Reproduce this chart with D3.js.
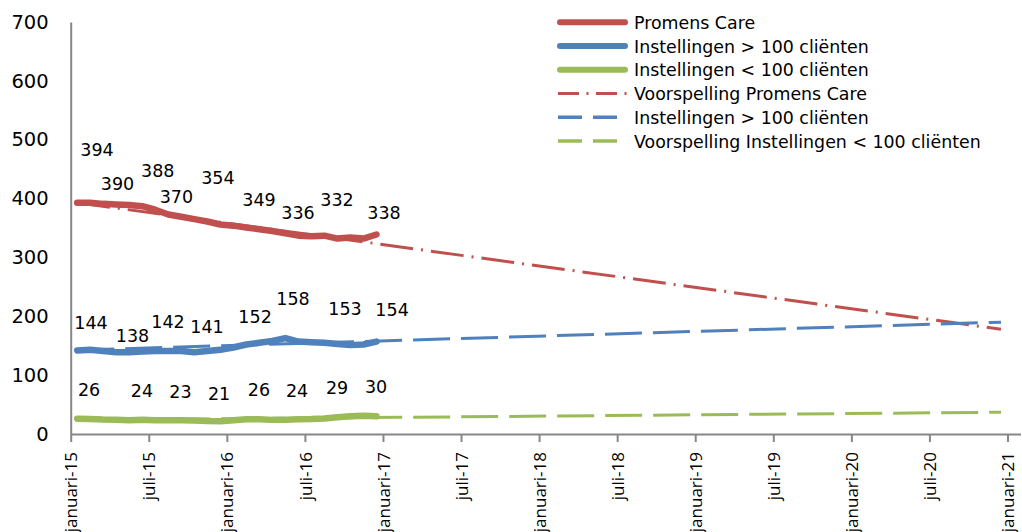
<!DOCTYPE html>
<html>
<head>
<meta charset="utf-8">
<script src="https://cdn.jsdelivr.net/npm/d3@7"></script>
<style>
  html, body { margin: 0; padding: 0; background: #fff; }
  svg { display: block; }
</style>
</head>
<body>
<svg id="chart" width="1022" height="532"></svg>
<script>
// ---------- DATA ----------
const months = ["2015-01","2015-02","2015-03","2015-04","2015-05","2015-06","2015-07","2015-08","2015-09","2015-10","2015-11","2015-12",
                "2016-01","2016-02","2016-03","2016-04","2016-05","2016-06","2016-07","2016-08","2016-09","2016-10","2016-11","2016-12"];
const promensCare   = [393,393,391,390,389,387,381,373,369,365,361,356,354,351,348,345,341,337,336,337,332,334,332,339];
const instGroot     = [142,143,141,139,139,140,141,141,141,139,141,143,147,152,155,158,163,157,156,155,153,151,152,157];
const instKlein     = [26,25.5,24.5,24,23.5,24,23.5,23.5,23.5,23,22,21.5,23.5,25,25,24,24,25,25.5,26.5,28.5,30,31,30];

// forecast (trend) lines: start month index and end month index with values
const forecastMonths  = [0, 71];
const forecastPromens = [393, 178];
const forecastGroot   = [142.5, 190];
const forecastKlein   = [23.7, 37];

// data labels (value, month position, level at which the label sits)
const labelPromensValues = [394,390,388,370,354,349,336,332,338];
const labelPromensMonth  = [2.02,3.60,6.69,8.12,11.31,14.47,17.47,20.47,24.08];
const labelPromensLevel  = [472,414,437,393,425,387,365,387,365];
const labelGrootValues   = [144,138,142,141,152,158,153,154];
const labelGrootMonth    = [1.56,4.75,7.48,10.48,14.17,17.09,21.08,24.7];
const labelGrootLevel    = [178,157,180,172,189,219,202,200];
const labelKleinValues   = [26,24,23,21,26,24,29,30];
const labelKleinMonth    = [1.41,5.48,8.44,11.4,14.47,17.4,20.47,23.47];
const labelKleinLevel    = [64.6,62.9,61.2,57.8,64.6,62.9,68,69.7];

const yTicks = [0,100,200,300,400,500,600,700];
const xTickMonths = [0,6,12,18,24,30,36,42,48,54,60,66,72];
const xTickLabels = ["januari-15","juli-15","januari-16","juli-16","januari-17","juli-17","januari-18","juli-18","januari-19","juli-19","januari-20","juli-20","januari-21"];

const legendNames = ["Promens Care","Instellingen > 100 cliënten","Instellingen < 100 cliënten",
                     "Voorspelling Promens Care","Instellingen > 100 cliënten","Voorspelling Instellingen < 100 cliënten"];

// ---------- STYLE ----------
const RED = "#C0504D", BLUE = "#4F81BD", GREEN = "#9BBB59", AXIS = "#878787";
const DASH_DOT_PLOT = "33,8,2,8", DASH_PLOT = "37,11";
const DASH_DOT_LEG = "21,7.5,2,7.5", DASH_LEG = "24,11";
const numFont = "'DejaVu Sans', Verdana, sans-serif";
const tickFont = "'Open Sans', sans-serif";

const svg = d3.select("#chart");
const x = d3.scaleLinear().domain([0, 73]).range([70.7, 1020.5]);
const y = d3.scaleLinear().domain([0, 700]).range([434, 22]);

const pos = i => x(i + 0.5);

// ---------- AXES ----------
const yAxis = svg.append("g").attr("transform", `translate(${x(0)},0)`)
  .call(d3.axisLeft(y).tickValues(yTicks).tickSize(0).tickPadding(22));
yAxis.select(".domain").attr("stroke", AXIS).attr("stroke-width", 2);
yAxis.selectAll("text").attr("font-family", numFont).attr("font-size", 19.5).attr("fill", "#000");

const xAxis = svg.append("g").attr("transform", `translate(0,${y(0)})`)
  .call(d3.axisBottom(x).tickValues(xTickMonths).tickFormat((d, i) => xTickLabels[i]).tickSize(8).tickSizeOuter(0));
xAxis.select(".domain").attr("stroke", AXIS).attr("stroke-width", 2);
xAxis.selectAll(".tick line").attr("stroke", AXIS).attr("stroke-width", 2);
xAxis.selectAll("text")
  .attr("transform", "rotate(-90)")
  .attr("x", -18).attr("y", 0).attr("dy", "0.36em")
  .style("text-anchor", "end")
  .attr("font-family", tickFont).attr("font-size", 17).attr("fill", "#000");

// ---------- FORECAST LINES ----------
const fLine = d3.line().x(d => pos(d[0])).y(d => y(d[1]));
function forecast(vals, color, dash) {
  svg.append("path")
    .datum(forecastMonths.map((m, i) => [m, vals[i]]))
    .attr("d", fLine).attr("fill", "none")
    .attr("stroke", color).attr("stroke-width", 3)
    .attr("stroke-dasharray", dash);
}
forecast(forecastPromens, RED, DASH_DOT_PLOT);
forecast(forecastGroot, BLUE, DASH_PLOT);
forecast(forecastKlein, GREEN, DASH_PLOT);

// ---------- ACTUAL LINES ----------
const aLine = d3.line().x((d, i) => pos(i)).y(d => y(d));
function actual(vals, color) {
  svg.append("path").datum(vals).attr("d", aLine).attr("fill", "none")
    .attr("stroke", color).attr("stroke-width", 6.5)
    .attr("stroke-linecap", "round").attr("stroke-linejoin", "round");
}
actual(instKlein, GREEN);
actual(instGroot, BLUE);
actual(promensCare, RED);

// ---------- DATA LABELS ----------
function labels(vals, ms, lv) {
  svg.append("g").selectAll("text").data(vals).join("text")
    .attr("x", (d, i) => x(ms[i])).attr("y", (d, i) => y(lv[i]))
    .attr("text-anchor", "middle")
    .attr("font-family", numFont).attr("font-size", 17.5).attr("fill", "#000")
    .text(d => d);
}
labels(labelPromensValues, labelPromensMonth, labelPromensLevel);
labels(labelGrootValues, labelGrootMonth, labelGrootLevel);
labels(labelKleinValues, labelKleinMonth, labelKleinLevel);

// ---------- LEGEND ----------
const legendStyles = [
  {c: RED, w: 6, dash: null},
  {c: BLUE, w: 6, dash: null},
  {c: GREEN, w: 6, dash: null},
  {c: RED, w: 3, dash: DASH_DOT_LEG},
  {c: BLUE, w: 3.5, dash: DASH_LEG},
  {c: GREEN, w: 3.5, dash: DASH_LEG}
];
const lg = svg.append("g");
legendNames.forEach((name, i) => {
  const cy = 22.3 + i * 23.75;
  const s = legendStyles[i];
  const ln = lg.append("line")
    .attr("x1", s.dash ? 558 : 560).attr("x2", s.dash ? (i === 3 ? 627 : 618) : 625)
    .attr("y1", cy).attr("y2", cy)
    .attr("stroke", s.c).attr("stroke-width", s.w);
  if (s.dash) ln.attr("stroke-dasharray", s.dash);
  else ln.attr("stroke-linecap", "round");
  lg.append("text").attr("x", 634).attr("y", cy + 6.5)
    .attr("font-family", numFont).attr("font-size", 17.4).attr("fill", "#000")
    .text(name);
});
</script>
</body>
</html>
